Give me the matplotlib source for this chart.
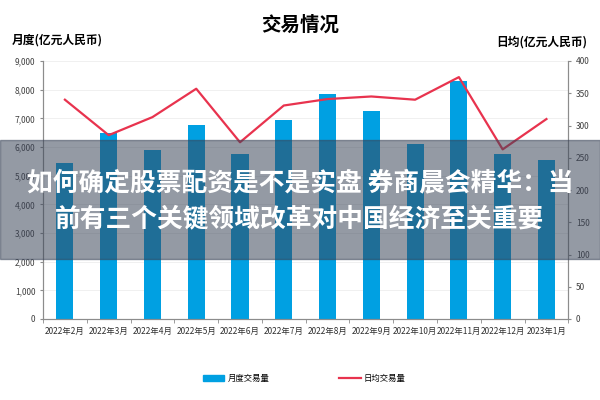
import matplotlib

matplotlib.use("Agg")
import matplotlib.pyplot as plt  # noqa: E402
from matplotlib.patches import Rectangle  # noqa: E402
from matplotlib.lines import Line2D  # noqa: E402
import numpy as np  # noqa: E402

plt.rcParams["font.family"] = ["Noto Sans CJK SC", "DejaVu Sans"]

months = ["2022年2月", "2022年3月", "2022年4月", "2022年5月", "2022年6月", "2022年7月",
          "2022年8月", "2022年9月", "2022年10月", "2022年11月", "2022年12月", "2023年1月"]
monthly = [5440, 6490, 5910, 6780, 5740, 6930, 7840, 7270, 6100, 8290, 5770, 5540]
daily = [340, 285, 313, 357, 274, 331, 341, 345, 340, 375, 263, 310]
left_ticks = [0, 1000, 2000, 3000, 4000, 5000, 6000, 7000, 8000, 9000]
right_ticks = [0, 50, 100, 150, 200, 250, 300, 350, 400]

BAR = "#00a0e2"
LINE = "#e8334e"
AXIS = "#8c8c8c"

fig = plt.figure(figsize=(6, 4), dpi=100)
ax = fig.add_axes([0.0717, 0.2025, 0.8755, 0.645])
ax2 = ax.twinx()

x = np.arange(len(months))
ax.bar(x, monthly, width=0.39, color=BAR, zorder=2)
ax2.plot(x, daily, color=LINE, lw=1.6, zorder=3)

ax.set_xlim(-0.5, len(months) - 0.5)
ax.set_ylim(0, 9000)
ax2.set_ylim(0, 400)
ax.set_yticks(left_ticks)
ax.set_yticklabels([f"{v:,}" for v in left_ticks], fontsize=6, color="#404040")
ax2.set_yticks(right_ticks)
ax2.set_yticklabels([str(v) for v in right_ticks], fontsize=6, color="#404040")
ax.set_xticks(x)
ax.set_xticklabels(months, fontsize=6, color="#303030")
ax.set_xticks(np.arange(len(months) + 1) - 0.5, minor=True)
ax.tick_params(axis="x", which="major", length=0, pad=6)
ax.tick_params(axis="x", which="minor", length=3, color=AXIS)
ax.tick_params(axis="y", length=2.5, color=AXIS, pad=3)
ax2.tick_params(axis="y", length=2.5, color=AXIS, pad=3)
ax.grid(axis="y", color="#eeeeee", lw=0.6, zorder=0)
ax.set_axisbelow(True)

for a in (ax, ax2):
    a.spines["top"].set_visible(False)
    for s in ("left", "right", "bottom"):
        a.spines[s].set_color(AXIS)
        a.spines[s].set_linewidth(0.8)

fig.text(0.5, 0.938, "交易情况", ha="center", va="center", fontsize=14, fontweight="bold")
fig.text(0.02, 0.9, "月度(亿元人民币)", ha="left", va="center", fontsize=8.5, fontweight="bold")
fig.text(0.978, 0.895, "日均(亿元人民币)", ha="right", va="center", fontsize=8.5, fontweight="bold")

# legend drawn by hand at the bottom
fig.patches.append(Rectangle((0.338, 0.047), 0.036, 0.016, transform=fig.transFigure,
                             color=BAR, figure=fig))
fig.text(0.379, 0.055, "月度交易量", ha="left", va="center", fontsize=6)
fig.lines.append(Line2D([0.565, 0.602], [0.055, 0.055], transform=fig.transFigure,
                        color=LINE, lw=1.6, figure=fig))
fig.text(0.606, 0.055, "日均交易量", ha="left", va="center", fontsize=6)

# grey overlay band with headline
fig.patches.append(Rectangle((0, 0.3525), 1, 0.2975, transform=fig.transFigure,
                             color="#3a4458", alpha=0.54, figure=fig, zorder=10))
fig.text(0.5, 0.543, "如何确定股票配资是不是实盘 券商晨会精华：当", ha="center", va="center",
         fontsize=18.5, fontweight="bold", color="white", zorder=11)
fig.text(0.5, 0.453, "前有三个关键领域改革对中国经济至关重要", ha="center", va="center",
         fontsize=18.5, fontweight="bold", color="white", zorder=11)

fig.savefig("out.png", dpi=100)
